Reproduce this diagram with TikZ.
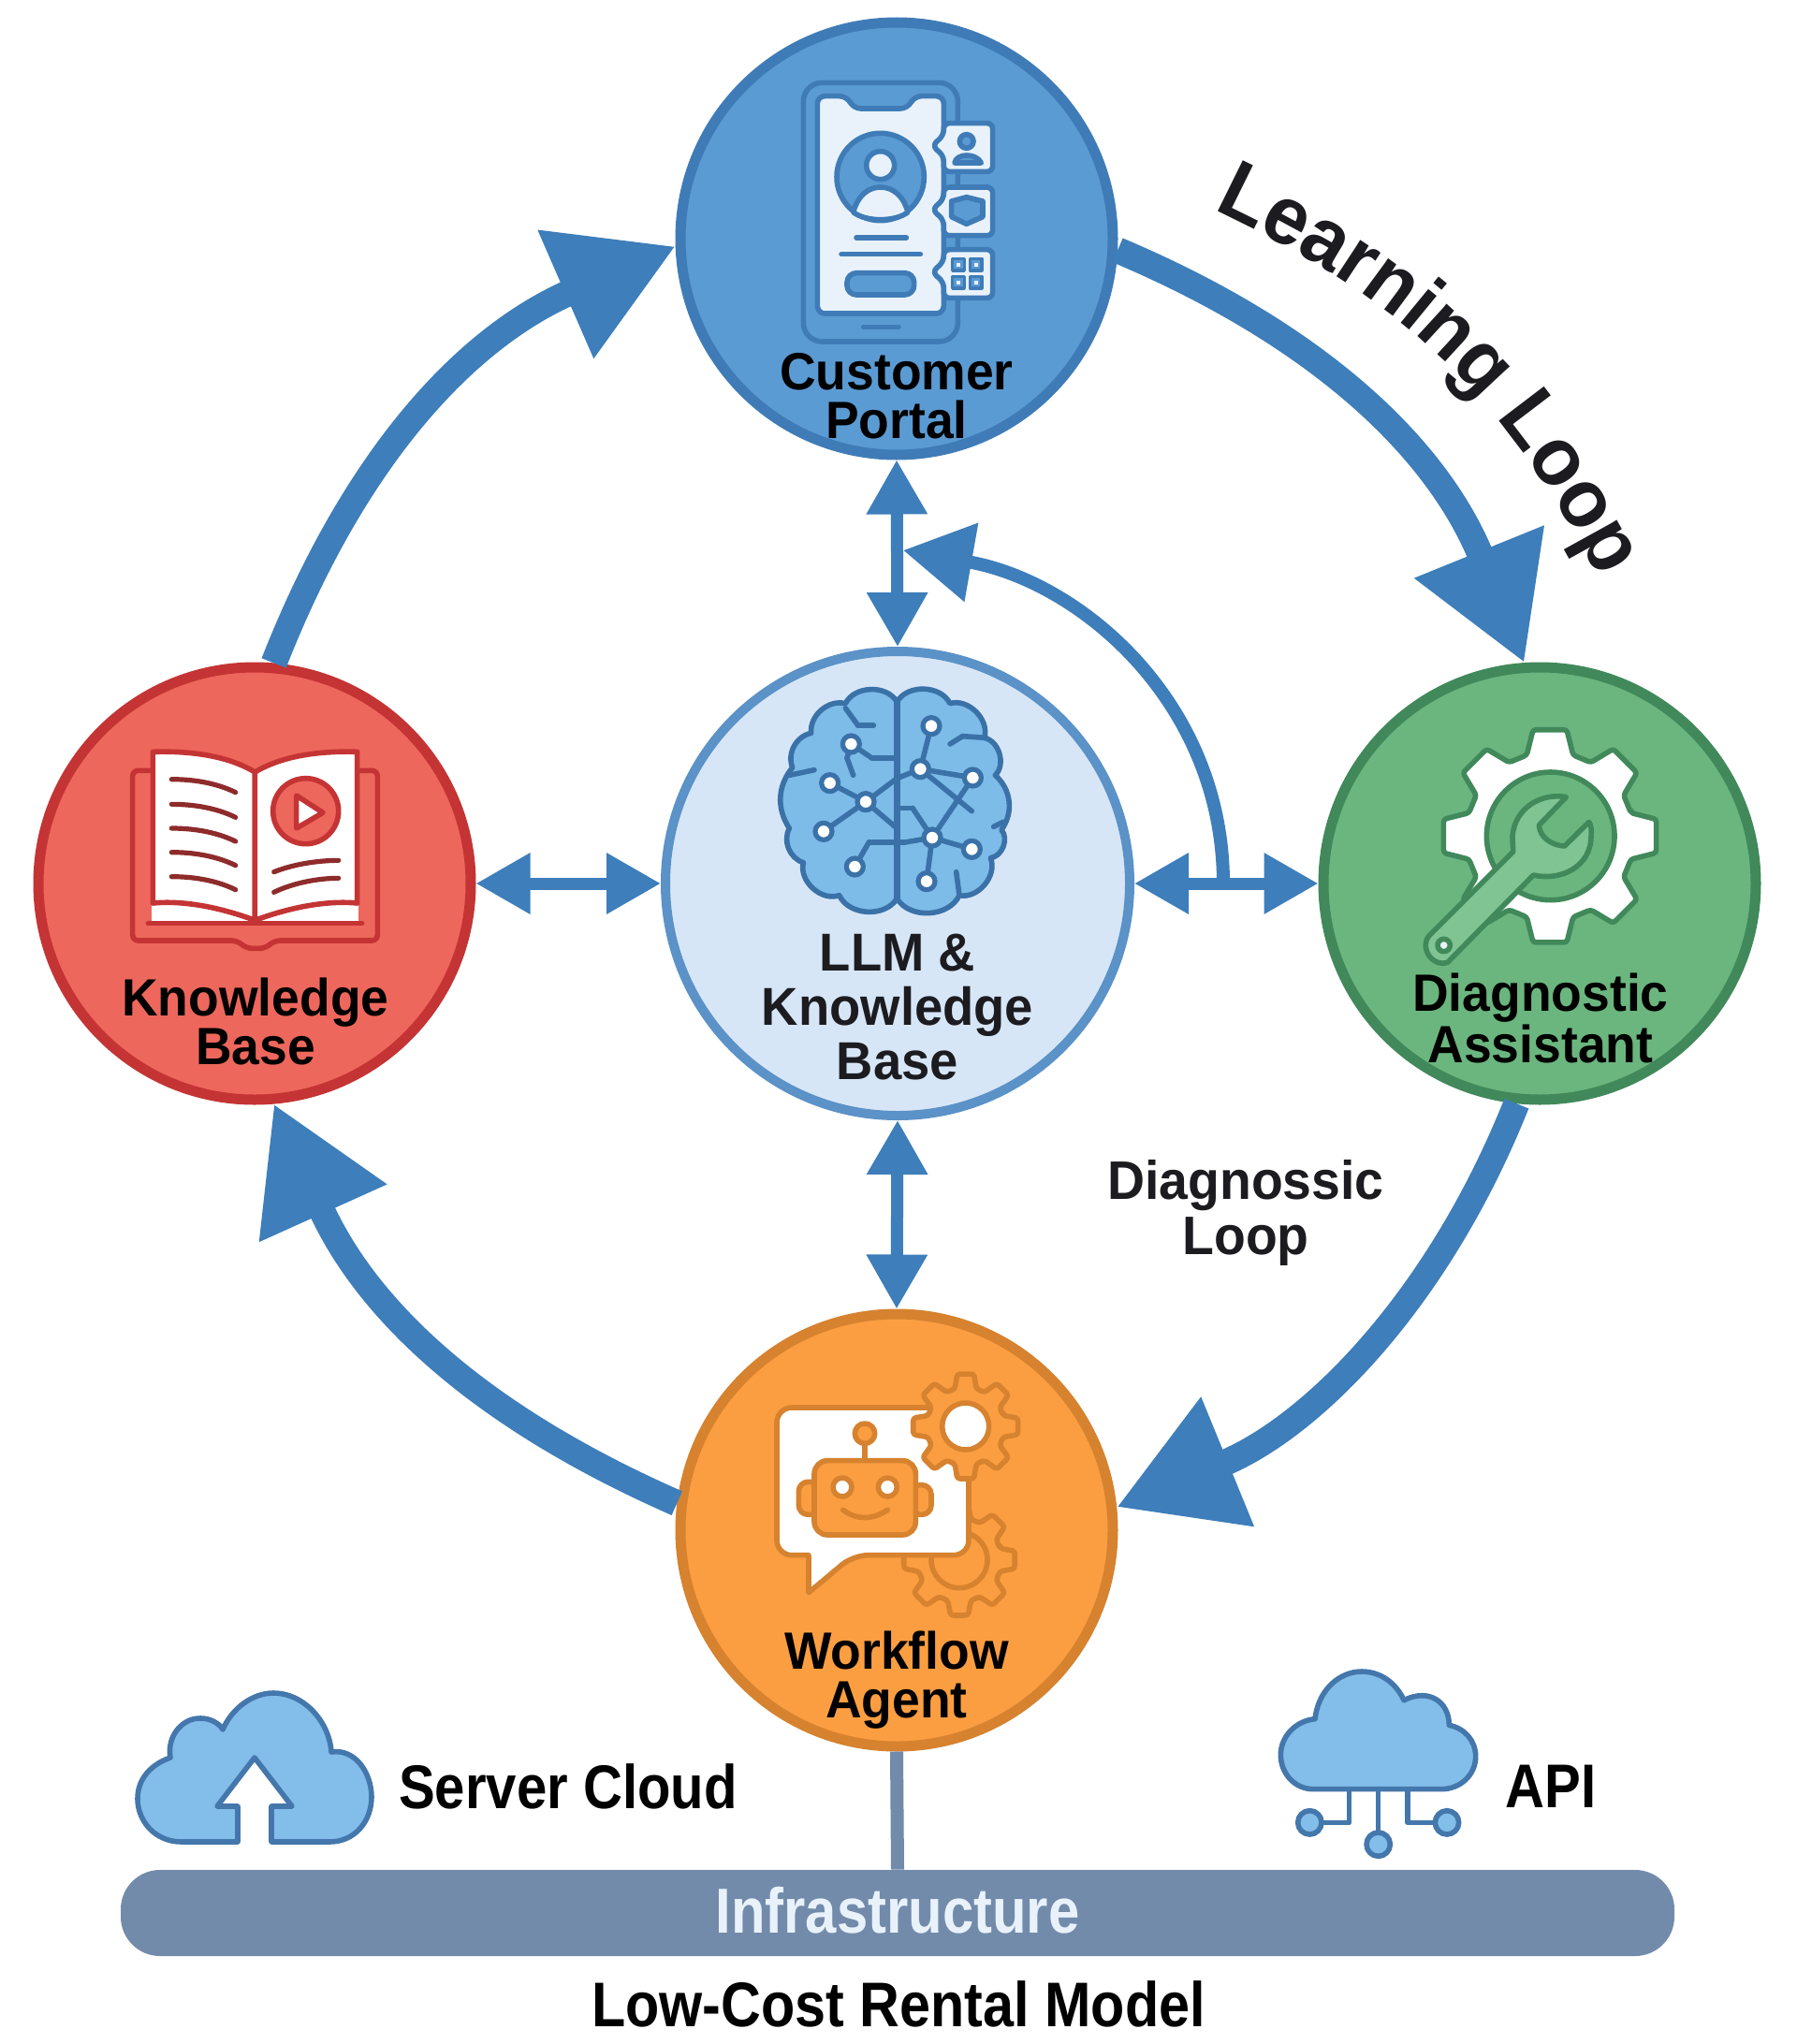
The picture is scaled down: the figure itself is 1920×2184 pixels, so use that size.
\documentclass[tikz,border=0pt]{standalone}
\usepackage{fontspec}
\usetikzlibrary{arrows.meta,decorations.text}
\newfontfamily\hubfont[FakeStretch=0.955]{Liberation Sans}
\newfontfamily\narrowfont[FakeStretch=0.88]{Liberation Sans}
\newcommand{\loopfont}{\hubfont\bfseries\fontsize{44}{50}\selectfont\color{inktext}}
\definecolor{portalfill}{HTML}{5B9BD3}
\definecolor{portaledge}{HTML}{3F7CB7}
\definecolor{pagelight}{HTML}{E9F2FB}
\definecolor{corefill}{HTML}{D7E6F7}
\definecolor{coreedge}{HTML}{5B92C7}
\definecolor{brainfill}{HTML}{7DBBE8}
\definecolor{brainedge}{HTML}{3A72A8}
\definecolor{bookfill}{HTML}{EE675C}
\definecolor{bookedge}{HTML}{C43434}
\definecolor{booktext}{HTML}{8E2B2B}
\definecolor{gearfill}{HTML}{6BB67F}
\definecolor{gearedge}{HTML}{41895A}
\definecolor{wrenchfill}{HTML}{7FC492}
\definecolor{agentfill}{HTML}{FB9E42}
\definecolor{agentedge}{HTML}{D6822F}
\definecolor{arrowblue}{HTML}{3D7EBB}
\definecolor{barfill}{HTML}{728BAB}
\definecolor{cloudfill}{HTML}{82BEE9}
\definecolor{cloudedge}{HTML}{4477AB}
\definecolor{inktext}{HTML}{1C1C20}
\newcommand{\cog}[5][]{\begin{scope}[shift={(#2,#3)}]
  \draw[#1] (-16:#5) \foreach \a in {0,45,...,315} { -- ({\a-16}:#5) -- ({\a-9}:#4) -- ({\a+9}:#4) -- ({\a+16}:#5)} -- cycle;
  \end{scope}}
\tikzset{
  zoomframe/.style 2 args={shift={(#1,-#2)},x=0.16667pt,y=-0.16667pt},
  hub/.style={circle,draw,line width=5.5pt,minimum size=231pt,inner sep=0pt},
  hublabel/.style={align=center,anchor=base,inner sep=0pt,font=\hubfont\bfseries\fontsize{28}{26}\selectfont},
  sidelabel/.style={anchor=base,inner sep=0pt,font=\narrowfont\bfseries\fontsize{33}{36}\selectfont},
  looparrow/.style={draw=arrowblue,line width=14pt,-{Triangle[length=64pt,width=71pt]}},
  linkarrow/.style={draw=arrowblue,line width=6.5pt,{Triangle[length=29pt,width=31pt]}-{Triangle[length=29pt,width=31pt]}},
  iconline/.style={line width=2.8pt,line join=round,line cap=round}
}
\begin{document}
\begin{tikzpicture}[x=0.5pt,y=0.5pt]
  \path[use as bounding box,fill=white] (0,0) rectangle (1920,-2184);

  \node (portal) [hub,fill=portalfill,draw=portaledge] at (958,-255) {};
  \node (core) [hub,fill=corefill,draw=coreedge,line width=5pt,minimum size=248pt] at (959,-944) {};
  \node (kbase) [hub,fill=bookfill,draw=bookedge] at (272,-944) {};
  \node (diag) [hub,fill=gearfill,draw=gearedge] at (1645,-944) {};
  \node (agent) [hub,fill=agentfill,draw=agentedge] at (958,-1635) {};
  \node (infra) [rectangle,rounded corners=21pt,fill=barfill,minimum width=830pt,minimum height=46pt,inner sep=0pt,
     text=pagelight,text depth=3pt,font=\narrowfont\bfseries\fontsize{34}{36}\selectfont] at (959,-2044) {Infrastructure};

  \coordinate (diagfork) at (1307,-944);
  \coordinate (diagtip) at (965,-588);
  \coordinate (lrnstart) at (1305,-228);
  \coordinate (lrnend) at (1705,-610);

  \draw[looparrow] (portal.-3) to[bend left=22.5,looseness=1] (diag.94.5);
  \draw[looparrow] (diag.-96) to[bend left=23,looseness=0.95] (agent.6);
  \draw[looparrow] (agent.173) to[bend left=21,looseness=1] (kbase.-85);
  \draw[looparrow] (kbase.85) to[bend left=22.5,looseness=1] (portal.182);
  \draw[linkarrow] (portal.south) -- (core.north);
  \draw[linkarrow] (core.south) -- (agent.north);
  \draw[linkarrow] (kbase.east) -- (core.west);
  \draw[linkarrow] (core.east) -- (diag.west);
  \draw[draw=arrowblue,line width=7pt,-{Triangle[length=37pt,width=41pt]}] (diagfork) to[out=90,in=-10] (diagtip);
  \draw[draw=barfill,line width=7pt] (agent.south) -- (infra.north);

  \path[decorate,decoration={text along path,text align=center,text={|\loopfont|Learning Loop}}]
     (lrnstart) to[bend left=18] (lrnend);

  % portal icon
  \begin{scope}[zoomframe={720}{0},iconline,draw=portaledge]
    \draw[rounded corners=10pt] (415,265) rectangle (910,1095);
    \draw[fill=pagelight,rounded corners=4pt] (460,308) -- (555,308) -- (575,348) -- (750,348) -- (770,308) -- (865,308) -- (865,1005) -- (460,1005) -- cycle;
    \draw[fill=portalfill] (662,567) circle[radius=140];
    \draw[fill=pagelight] (662,530) circle[radius=45];
    \draw[fill=pagelight] (575,680) .. controls (590,625) and (625,600) .. (662,600) .. controls (700,600) and (735,625) .. (750,680) .. controls (710,712) and (615,712) .. (575,680) -- cycle;
    \draw (585,762) -- (745,762);
    \draw (537,815) -- (790,815);
    \draw[fill=portalfill,rounded corners=5pt] (555,875) rectangle (770,945);
    \draw (608,1048) -- (720,1048);
    \foreach \by in {395,600,800} {
      \draw[fill=pagelight,rounded corners=3pt] (865,\by) -- (1022,\by) -- (1022,{\by+155}) -- (865,{\by+155}) -- (865,{\by+105}) -- (828,{\by+72}) -- (865,{\by+38}) -- cycle;
    }
    \draw[fill=portalfill] (938,453) circle[radius=22];
    \draw[fill=portalfill] (900,522) .. controls (905,490) and (970,490) .. (985,522) -- cycle;
    \draw[fill=portalfill] (890,645) -- (938,632) -- (990,645) -- (990,695) -- (938,718) -- (890,695) -- cycle;
    \foreach \gx/\gy in {912/848,968/848,912/905,968/905} {
      \draw[fill=portalfill,line width=1.6pt] ({\gx-19},{\gy-19}) rectangle ({\gx+19},{\gy+19});
      \fill[pagelight] ({\gx-6},{\gy-6}) rectangle ({\gx+6},{\gy+6});
    }
  \end{scope}

  % brain icon
  \begin{scope}[zoomframe={700}{700},iconline,draw=brainedge]
    \draw[fill=brainfill] (775,150) to[bend left=62] (945,155) to[bend left=62] (1055,265) to[bend left=62] (1090,385)
       to[bend left=42] (1110,560) to[bend left=62] (1075,650) to[bend left=62] (975,770) to[bend left=62] (775,780)
       to[bend left=62] (590,770) to[bend left=62] (475,665) to[bend left=50] (430,555) to[bend left=36] (440,360)
       to[bend left=50] (500,250) to[bend left=55] (610,155) to[bend left=62] (775,150) -- cycle;
    \draw[line width=3.4pt] (775,150) -- (775,780);
    \foreach \ax/\ay/\bx/\by in {885/227/850/365,850/365/1018/393,850/365/1015/500,1018/393/888/585,850/365/775/395,775/395/675/470,675/470/560/410,675/470/540/565,675/470/775/555,628/285/695/330,695/330/775/330,628/285/615/330,615/330/635/385,888/585/1015/622,888/585/870/725,888/585/825/490,825/490/775/490,888/585/800/600,800/600/685/600,685/600/640/678,430/385/510/368,1085/550/1115/535,965/695/975/770,610/170/650/225,650/225/700/225,945/285/985/260,985/260/1060/265} {
      \draw (\ax,\ay) -- (\bx,\by);
    }
    \foreach \nx/\ny in {885/227,628/285,850/365,1018/393,560/410,675/470,540/565,888/585,1015/622,640/678,870/725} {
      \draw[fill=white,line width=2.6pt] (\nx,\ny) circle[radius=27];
    }
  \end{scope}

  % book icon
  \begin{scope}[zoomframe={20}{700},iconline,draw=bookedge]
    \draw[rounded corners=3pt] (420,370) -- (365,370) -- (365,915) -- (700,915) -- (730,940) -- (790,940) -- (820,915) -- (1150,915) -- (1150,370) -- (1095,370);
    \fill[white] (425,800) rectangle (1090,855);
    \draw[fill=white] (430,310) .. controls (600,305) and (700,340) .. (757,375) -- (757,850) .. controls (650,810) and (530,785) .. (430,795) -- cycle;
    \draw[fill=white] (1085,310) .. controls (915,305) and (815,340) .. (757,375) -- (757,850) .. controls (865,810) and (985,785) .. (1085,795) -- cycle;
    \draw (415,860) -- (1100,860);
    \foreach \ly in {398,478,555,632,710} {
      \draw[draw=booktext,line width=2.6pt] (490,\ly) .. controls (570,\ly) and (640,{\ly+15}) .. (695,{\ly+42});
    }
    \draw[draw=booktext,line width=2.6pt] (818,695) .. controls (880,670) and (960,658) .. (1025,658);
    \draw[draw=booktext,line width=2.6pt] (818,760) .. controls (880,730) and (960,715) .. (1025,715);
    \draw[fill=bookfill] (920,500) circle[radius=105];
    \draw[fill=white] (890,450) -- (975,505) -- (890,555) -- cycle;
  \end{scope}

  % gear and wrench icon
  \begin{scope}[zoomframe={1400}{700},iconline,draw=gearedge]
    \cog[fill=white,rounded corners=1.5pt]{768}{580}{345}{270}
    \draw[fill=gearfill] (770,580) circle[radius=205];
    \draw[fill=wrenchfill] (820,455) .. controls (740,440) and (655,490) .. (648,580) .. controls (648,600) and (650,615) .. (650,630) -- (380,900) .. controls (350,940) and (390,1000) .. (440,985) -- (715,705) .. controls (800,725) and (900,680) .. (900,580) .. controls (902,560) and (900,545) .. (893,535) -- (815,612) .. controls (775,610) and (735,585) .. (733,545) -- cycle;
    \draw[fill=pagelight] (428,930) circle[radius=20];
  \end{scope}

  % agent icon
  \begin{scope}[zoomframe={720}{1400},iconline,draw=agentedge]
    \cog[rounded corners=1.5pt]{915}{800}{180}{135}
    \draw (915,800) circle[radius=90];
    \draw[fill=white,rounded corners=8pt] (330,312) -- (945,312) -- (945,785) -- (575,785) [sharp corners] -- (432,905) -- (432,785) [rounded corners=8pt] -- (330,785) -- cycle;
    \cog[fill=agentfill,rounded corners=1.5pt]{935}{372}{170}{125}
    \draw[fill=white] (935,372) circle[radius=75];
    \draw[fill=agentfill,rounded corners=5pt] (400,550) rectangle (470,655);
    \draw[fill=agentfill,rounded corners=5pt] (760,560) rectangle (825,655);
    \draw (612,425) -- (612,482);
    \draw[fill=agentfill] (612,395) circle[radius=32];
    \draw[fill=agentfill,rounded corners=7pt] (450,482) rectangle (775,720);
    \draw[fill=white] (540,567) circle[radius=30];
    \draw[fill=white] (685,567) circle[radius=30];
    \draw (542,640) .. controls (590,675) and (640,670) .. (685,640);
  \end{scope}

  % clouds
  \draw[iconline,draw=cloudedge,fill=cloudfill] (254,-1968) -- (194,-1968) .. controls (165,-1968) and (147,-1945) .. (147,-1922) .. controls (147,-1900) and (162,-1885) .. (182,-1878) .. controls (178,-1855) and (195,-1835) .. (215,-1836) .. controls (225,-1836) and (235,-1842) .. (238,-1848) .. controls (248,-1825) and (270,-1809) .. (292,-1809) .. controls (325,-1809) and (352,-1840) .. (354,-1872) .. controls (380,-1868) and (397,-1895) .. (397,-1920) .. controls (397,-1945) and (380,-1968) .. (352,-1968) -- (290,-1968) -- (290,-1930) -- (312,-1930) -- (272,-1878) -- (232,-1930) -- (254,-1930) -- cycle;
  \begin{scope}[zoomframe={1300}{1760},iconline,draw=cloudedge]
    \draw[fill=cloudfill] (310,455) .. controls (250,455) and (205,405) .. (205,345) .. controls (205,285) and (255,235) .. (315,230) .. controls (325,140) and (390,78) .. (465,78) .. controls (525,78) and (575,115) .. (600,170) .. controls (680,130) and (745,175) .. (745,250) .. controls (795,260) and (830,300) .. (830,350) .. controls (830,410) and (780,455) .. (720,455) -- cycle;
    \draw (425,460) -- (425,562) -- (340,562);
    \draw (518,460) -- (518,590);
    \draw (612,460) -- (612,562) -- (695,562);
    \draw[fill=cloudfill] (298,562) circle[radius=38];
    \draw[fill=cloudfill] (518,632) circle[radius=38];
    \draw[fill=cloudfill] (738,562) circle[radius=38];
  \end{scope}

  \node (portaltxt) [hublabel,text=black] at (958,-468) {Customer\\Portal};
  \node (coretxt) [hublabel,text=inktext,font=\hubfont\bfseries\fontsize{28.5}{29}\selectfont] at (959,-1153) {LLM \&\\Knowledge\\Base};
  \node (kbasetxt) [hublabel,text=black] at (273,-1137) {Knowledge\\Base};
  \node (diagtxt) [hublabel,text=black] at (1646,-1135) {Diagnostic\\Assistant};
  \node (agenttxt) [hublabel,text=black] at (958,-1835) {Workflow\\Agent};
  \node (difflabel) [hublabel,text=inktext,font=\hubfont\bfseries\fontsize{29}{29.5}\selectfont] at (1331,-1340) {Diagnossic\\Loop};
  \node (cloudtxt) [sidelabel] at (607,-1932) {Server Cloud};
  \node (apitxt) [sidelabel] at (1657,-1931) {API};
  \node (modeltxt) [sidelabel,font=\narrowfont\bfseries\fontsize{33.7}{38}\selectfont] at (960,-2165) {Low-Cost Rental Model};
\end{tikzpicture}
\end{document}
